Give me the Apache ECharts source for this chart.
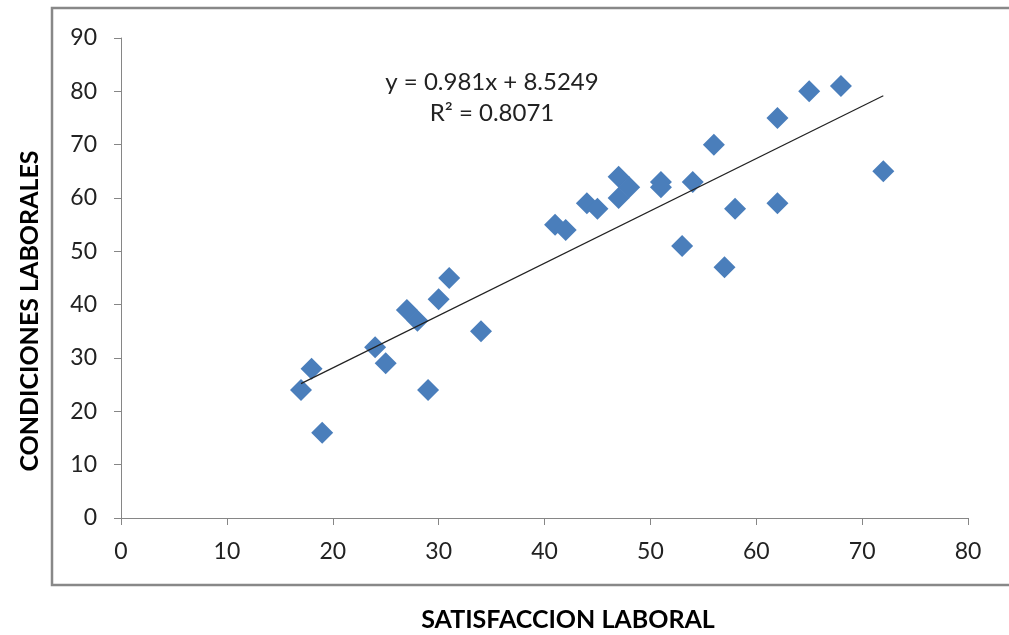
<!DOCTYPE html>
<html>
<head>
<meta charset="utf-8">
<script src="https://cdn.jsdelivr.net/npm/echarts@6/dist/echarts.min.js"></script>
<style>
html,body{margin:0;padding:0;background:#fff;}
#chart{width:1009px;height:635px;}
</style>
</head>
<body>
<div id="chart"></div>
<script>
// Data
const satisfaccion = [17,18,19,24,25,27,28,29,30,31,34,41,42,44,45,47,47,48,51,51,53,54,56,57,58,62,62,65,68,72];
const condiciones  = [24,28,16,32,29,39,37,24,41,45,35,55,54,59,58,64,60,62,63,62,51,63,70,47,58,75,59,80,81,65];
const xTicks = [0,10,20,30,40,50,60,70,80];
const yTicks = [0,10,20,30,40,50,60,70,80,90];
const trendSlope = 0.981;
const trendIntercept = 8.5249;
const rSquared = 0.8071;
const trendRange = [17,72];
const xTitle = 'SATISFACCION LABORAL';
const yTitle = 'CONDICIONES LABORALES';

const points = satisfaccion.map((x,i)=>[x, condiciones[i]]);
const trendPts = trendRange.map(x=>[x, trendSlope*x + trendIntercept]);

const chart = echarts.init(document.getElementById('chart'));
const axisGray = '#868686';
const font = 'Lato, "Open Sans", sans-serif';
chart.setOption({
  animation:false,
  grid:{left:121, top:38, right:41, bottom:117},
  xAxis:{
    type:'value', min:xTicks[0], max:xTicks[xTicks.length-1], interval:10,
    splitLine:{show:false},
    axisLine:{show:true, lineStyle:{color:axisGray, width:1}},
    axisTick:{show:true, length:7, lineStyle:{color:axisGray}},
    axisLabel:{color:'#222', fontFamily:font, fontSize:23, margin:22}
  },
  yAxis:{
    type:'value', min:yTicks[0], max:yTicks[yTicks.length-1], interval:10,
    splitLine:{show:false},
    axisLine:{show:true, lineStyle:{color:axisGray, width:1}},
    axisTick:{show:true, length:7, lineStyle:{color:axisGray}},
    axisLabel:{color:'#222', fontFamily:font, fontSize:23, margin:24}
  },
  series:[
    {
      type:'scatter', data:points, symbol:'diamond', symbolSize:[22,22],
      itemStyle:{color:'#4a7ebb', opacity:1}, z:3
    },
    {
      type:'line', data:trendPts, symbol:'none', silent:true,
      lineStyle:{color:'#222', width:1.2}, z:4
    }
  ],
  graphic:[
    {type:'rect', shape:{x:52, y:8, width:970, height:577}, style:{fill:'none', stroke:'#888', lineWidth:2.5}},
    {type:'text', x:492, y:82, style:{text:'y = '+trendSlope+'x + '+trendIntercept, font:'24px '+font, fill:'#222', align:'center', verticalAlign:'middle'}},
    {type:'text', x:492, y:113, style:{text:'R² = '+rSquared, font:'24px '+font, fill:'#222', align:'center', verticalAlign:'middle'}},
    {type:'text', x:568, y:620, style:{text:xTitle, font:'bold 25px '+font, fill:'#000', align:'center', verticalAlign:'middle'}},
    {type:'text', x:30, y:311, rotation:Math.PI/2, style:{text:yTitle, font:'bold 25px '+font, fill:'#000', align:'center', verticalAlign:'middle'}}
  ]
});
</script>
</body>
</html>
